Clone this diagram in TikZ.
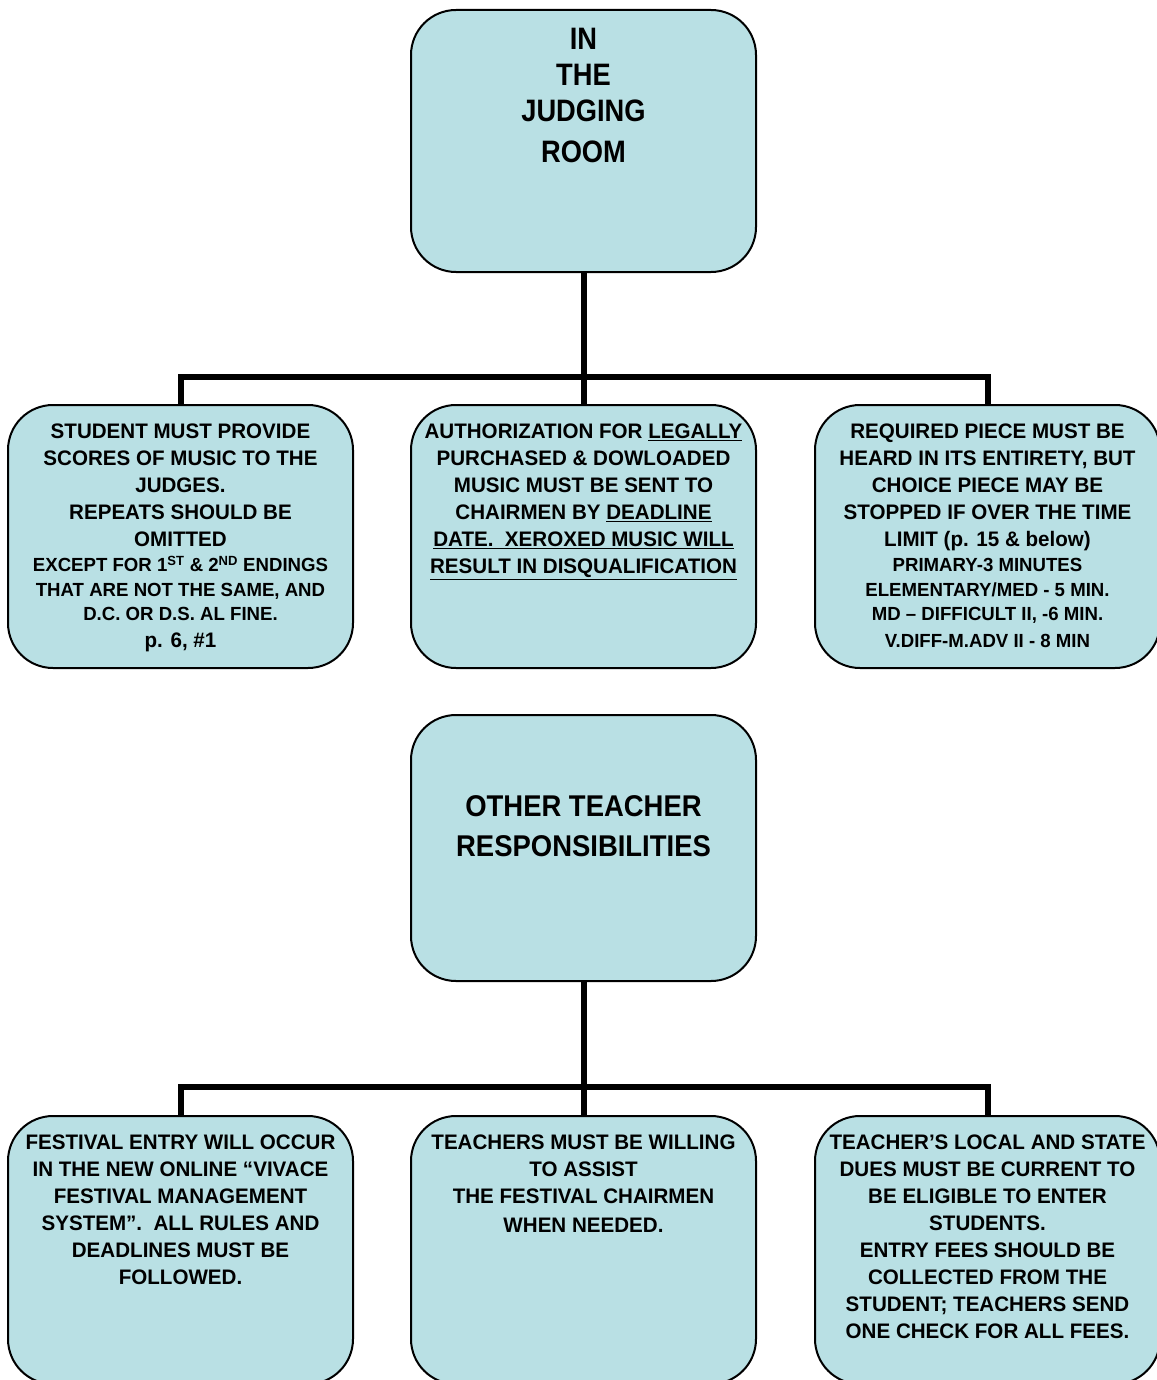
\documentclass[tikz,border=0pt]{standalone}
\usepackage{fontspec}
\setmainfont{Liberation Sans}[FakeStretch=0.98]
\newfontfamily\hdrfont{Liberation Sans}[FakeStretch=0.88]
\newfontfamily\hdrwfont{Liberation Sans}[FakeStretch=0.915]
\definecolor{boxfill}{RGB}{185,224,228}
\newcommand{\smtxt}[1]{{\fontsize{19}{25}\selectfont #1}}
\begin{document}
\begin{tikzpicture}[x=1pt,y=-1pt,
  box/.style={draw=black, line width=2pt, fill=boxfill, rounded corners=45pt,
    minimum width=345pt, inner sep=0pt},
  conn/.style={draw=black, line width=6pt},
  txt/.style={anchor=north, inner sep=0pt, align=center, text=black,
    font=\bfseries\fontsize{21}{27}\selectfont},
  hdr/.style={anchor=north, inner sep=0pt, align=center, text=black}]
\fill[white] (0,0) rectangle (1156,1380);
\useasboundingbox (0,0) rectangle (1156,1380);

% boxes
\node[box, minimum height=262pt] (top) at (583.5,141) {};
\node[box, minimum height=263pt] (r1l) at (180.5,536.5) {};
\node[box, minimum height=263pt] (r1m) at (583.5,536.5) {};
\node[box, minimum height=263pt] (r1r) at (987.5,536.5) {};
\node[box, minimum height=266pt] (mid) at (583.5,848) {};
\node[box, minimum height=268pt] (r3l) at (180.5,1250) {};
\node[box, minimum height=268pt] (r3m) at (583.5,1250) {};
\node[box, minimum height=268pt] (r3r) at (987.5,1250) {};

% connectors
\coordinate (j1) at (583.5,377);
\coordinate (j2) at (583.5,1087);
\draw[conn] (top.south) -- (j1);
\draw[conn] (r1l.north) |- (j1) -| (r1r.north);
\draw[conn] (j1) -- (r1m.north);
\draw[conn] (mid.south) -- (j2);
\draw[conn] (r3l.north) |- (j2) -| (r3r.north);
\draw[conn] (j2) -- (r3m.north);

% texts
\node[hdr, font=\hdrfont\bfseries\fontsize{31}{36}\selectfont] (ttop) at (583.5,28)
  {IN\\ THE\\ JUDGING\\[5pt] ROOM};
\node[hdr, font=\hdrwfont\bfseries\fontsize{30}{40}\selectfont] (tmid) at (583.5,795)
  {OTHER TEACHER\\ RESPONSIBILITIES};

\node[txt] (t1l) at (180.5,423.5)
  {STUDENT MUST PROVIDE\\ SCORES OF MUSIC TO THE\\ JUDGES.\\ REPEATS SHOULD BE\\ OMITTED\\[-2pt]
   \smtxt{EXCEPT FOR 1\textsuperscript{ST} \& 2\textsuperscript{ND} ENDINGS}\\[-2pt]
   \smtxt{THAT ARE NOT THE SAME, AND}\\[-3pt]
   \smtxt{D.C. OR D.S. AL FINE.}\\ p. 6, \#1};
\node[txt] (t1m) at (583.5,423.5)
  {AUTHORIZATION FOR \underline{LEGALLY}\\ PURCHASED \& DOWLOADED\\ MUSIC MUST BE SENT TO\\
   CHAIRMEN BY \underline{DEADLINE}\\ \underline{DATE.\ \ XEROXED MUSIC WILL}\\
   \underline{RESULT IN DISQUALIFICATION}};
\node[txt] (t1r) at (987.5,423.5)
  {REQUIRED PIECE MUST BE\\ HEARD IN ITS ENTIRETY, BUT\\ CHOICE PIECE MAY BE\\
   STOPPED IF OVER THE TIME\\ LIMIT (p. 15 \& below)\\[-2pt]
   \smtxt{PRIMARY-3 MINUTES}\\[-2pt]
   \smtxt{ELEMENTARY/MED - 5 MIN.}\\[-3pt]
   \smtxt{MD – DIFFICULT II, -6 MIN.}\\
   \smtxt{V.DIFF-M.ADV II - 8 MIN}};

\node[txt] (t3l) at (180.5,1134.5)
  {FESTIVAL ENTRY WILL OCCUR\\ IN THE NEW ONLINE “VIVACE\\ FESTIVAL MANAGEMENT\\
   SYSTEM”.\ \ ALL RULES AND\\ DEADLINES MUST BE\\ FOLLOWED.};
\node[txt] (t3m) at (583.5,1134.5)
  {TEACHERS MUST BE WILLING\\ TO ASSIST\\ THE FESTIVAL CHAIRMEN\\[2pt] WHEN NEEDED.};
\node[txt] (t3r) at (987.5,1134.5)
  {TEACHER’S LOCAL AND STATE\\ DUES MUST BE CURRENT TO\\ BE ELIGIBLE TO ENTER\\ STUDENTS.\\
   ENTRY FEES SHOULD BE\\ COLLECTED FROM THE\\ STUDENT; TEACHERS SEND\\ ONE CHECK FOR ALL FEES.};
\end{tikzpicture}
\end{document}
